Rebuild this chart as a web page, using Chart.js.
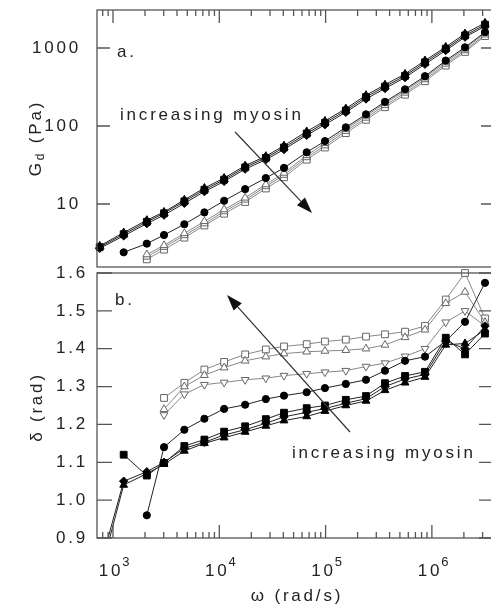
<!DOCTYPE html>
<html>
<head>
<meta charset="utf-8">
<script src="https://cdn.jsdelivr.net/npm/chart.js@4.4.0/dist/chart.umd.min.js"></script>
<style>
html, body { margin: 0; padding: 0; background: #fff; overflow: hidden; width: 491px; height: 608px; }
#wrap { position: relative; width: 491px; height: 608px; }
canvas { position: absolute; left: 0; top: 0; }
</style>
</head>
<body>
<div id="wrap">
  <canvas id="chartG" width="500" height="608"></canvas>
  <canvas id="chartD" width="500" height="608"></canvas>
</div>
<script>
// frequency grid (rad/s), shared by every curve
const omega = [750, 1260, 2080, 3020, 4690, 7240, 11100, 17500, 27400, 40600, 66400, 98600, 155000, 240000, 362000, 559000, 861000, 1350000, 2050000, 3160000];

// panel a: Gd (Pa)
const gTriFilled   = [2.9, 4.3, 6.2, 7.9, 11.3, 16, 21.5, 31, 41, 56, 85, 116, 167, 248, 338, 465, 690, 1030, 1530, 2100];
const gSqFilled    = [2.8, 4.1, 5.9, 7.6, 10.8, 15.2, 20.5, 29.5, 39, 53, 80, 110, 158, 235, 320, 440, 655, 980, 1450, 1990];
const gDiaFilled   = [2.7, 3.9, 5.6, 7.2, 10.2, 14.4, 19.5, 28, 37, 50, 76, 104, 150, 222, 303, 418, 620, 930, 1380, 1900];
const gCircFilled  = [null, 2.4, 3.1, 4.0, 5.5, 7.8, 11, 15.5, 21.5, 29, 46, 64, 96, 141, 204, 295, 435, 690, 1020, 1600];
const gTriDownOpen = [null, null, 2.25, 2.95, 4.2, 6.0, 8.5, 12, 17.8, 25, 42, 60, 91, 135, 195, 282, 417, 660, 980, 1550];
const gTriOpen     = [null, null, 2.1, 2.8, 3.95, 5.6, 8.0, 11.3, 16.8, 23.5, 39.5, 56, 86, 127, 184, 266, 395, 625, 930, 1480];
const gSqOpen      = [null, null, 1.95, 2.6, 3.7, 5.3, 7.5, 10.6, 15.8, 22, 37, 53, 81, 120, 174, 252, 375, 595, 890, 1420];

// panel b: delta (rad)
const dTriFilled   = [0.80, 1.04, 1.07, 1.095, 1.13, 1.15, 1.165, 1.18, 1.196, 1.21, 1.221, 1.235, 1.25, 1.262, 1.29, 1.31, 1.325, 1.41, 1.414, 1.45];
const dSqFilled    = [null, 1.12, 1.065, 1.098, 1.143, 1.16, 1.181, 1.195, 1.214, 1.231, 1.243, 1.25, 1.265, 1.275, 1.309, 1.328, 1.339, 1.429, 1.385, 1.44];
const dDiaFilled   = [0.82, 1.05, 1.075, 1.10, 1.137, 1.153, 1.172, 1.186, 1.203, 1.22, 1.232, 1.242, 1.256, 1.268, 1.30, 1.32, 1.332, 1.42, 1.40, 1.46];
const dCircFilled  = [null, null, 0.96, 1.14, 1.186, 1.215, 1.241, 1.252, 1.267, 1.276, 1.285, 1.296, 1.307, 1.318, 1.342, 1.368, 1.379, 1.42, 1.471, 1.574];
const dTriDownOpen = [null, null, null, 1.225, 1.28, 1.305, 1.311, 1.318, 1.322, 1.329, 1.334, 1.338, 1.342, 1.353, 1.362, 1.38, 1.40, 1.47, 1.50, 1.46];
const dTriOpen     = [null, null, null, 1.24, 1.30, 1.33, 1.35, 1.368, 1.379, 1.387, 1.392, 1.394, 1.396, 1.40, 1.41, 1.43, 1.45, 1.52, 1.55, 1.47];
const dSqOpen      = [null, null, null, 1.27, 1.31, 1.345, 1.365, 1.385, 1.398, 1.406, 1.412, 1.419, 1.424, 1.432, 1.438, 1.445, 1.46, 1.53, 1.60, 1.48];

// tick labels
const gTicks = [10, 100, 1000];
const dTicks = [0.9, 1.0, 1.1, 1.2, 1.3, 1.4, 1.5, 1.6];
const xDecades = [3, 4, 5, 6];

const FONT = '"Liberation Sans", Arial, Helvetica, sans-serif';
const SPACING = '2.8px';

function series(ys, shape, filled, radius) {
  return {
    data: omega.map((w, i) => ({x: w, y: ys[i]})),
    showLine: true,
    pointStyle: shape,
    pointRadius: radius,
    pointBackgroundColor: filled ? '#000' : '#fff',
    pointBorderColor: filled ? '#000' : '#666',
    pointBorderWidth: 1,
    borderColor: filled ? '#222' : '#888',
    borderWidth: 1,
    tension: 0,
    clip: {left: 6, top: 6, right: 6, bottom: 0}
  };
}

function text(ctx, str, x, y, size, align) {
  ctx.font = size + 'px ' + FONT;
  ctx.textAlign = align || 'left';
  ctx.textBaseline = 'alphabetic';
  ctx.fillStyle = '#222';
  ctx.fillText(str, x, y);
}

function arrow(ctx, x1, y1, x2, y2) {
  const ang = Math.atan2(y2 - y1, x2 - x1), L = 16, W = 5.5;
  const bx = x2 - L * Math.cos(ang), by = y2 - L * Math.sin(ang);
  ctx.strokeStyle = '#333';
  ctx.lineWidth = 1.2;
  ctx.beginPath(); ctx.moveTo(x1, y1); ctx.lineTo(bx, by); ctx.stroke();
  ctx.beginPath();
  ctx.moveTo(x2, y2);
  ctx.lineTo(bx + W * Math.sin(ang), by - W * Math.cos(ang));
  ctx.lineTo(bx - W * Math.sin(ang), by + W * Math.cos(ang));
  ctx.closePath();
  ctx.fillStyle = '#111';
  ctx.fill();
}

// rotated title with a subscript piece: parts = [[str, size, shift], ...]
function vtitle(ctx, parts, x, y) {
  ctx.save();
  ctx.translate(x, y);
  ctx.rotate(-Math.PI / 2);
  ctx.textBaseline = 'alphabetic';
  ctx.fillStyle = '#222';
  let total = 0;
  parts.forEach(p => { ctx.font = p[1] + 'px ' + FONT; total += ctx.measureText(p[0]).width; });
  let cx = -total / 2;
  parts.forEach(p => {
    ctx.font = p[1] + 'px ' + FONT;
    ctx.textAlign = 'left';
    ctx.fillText(p[0], cx, p[2]);
    cx += ctx.measureText(p[0]).width;
  });
  ctx.restore();
}

const panel = {
  id: 'panel',
  beforeDraw(chart) { chart.ctx.letterSpacing = SPACING; },
  afterDraw(chart, args, o) {
    const ctx = chart.ctx, a = chart.chartArea, x = chart.scales.x, y = chart.scales.y;
    ctx.save();
    ctx.letterSpacing = SPACING;
    ctx.strokeStyle = '#555';
    ctx.lineWidth = 1.3;
    ctx.strokeRect(a.left, a.top, a.right - a.left, a.bottom - a.top);
    ctx.beginPath();
    for (let e = 2; e <= 6; e++) {
      for (let k = 1; k <= 9; k++) {
        const v = k * Math.pow(10, e);
        if (v < x.min || v > x.max) continue;
        const px = x.getPixelForValue(v);
        const len = k === 1 ? 13 : 6;
        if (o.xSide === 'top') { ctx.moveTo(px, a.top); ctx.lineTo(px, a.top + len); }
        else { ctx.moveTo(px, a.bottom); ctx.lineTo(px, a.bottom - len); }
      }
    }
    o.yTicks.forEach(v => {
      const py = y.getPixelForValue(v);
      ctx.moveTo(a.left, py); ctx.lineTo(a.left + o.yLen, py);
      ctx.moveTo(a.right, py); ctx.lineTo(a.right - o.yLen, py);
    });
    ctx.stroke();

    // panel letter, annotation and arrow, placed in data coordinates
    text(ctx, o.letter[0], x.getPixelForValue(o.letter[1]), y.getPixelForValue(o.letter[2]), 17);
    text(ctx, 'increasing myosin', x.getPixelForValue(o.note[0]), y.getPixelForValue(o.note[1]), 17);
    arrow(ctx, x.getPixelForValue(o.arrow[0]), y.getPixelForValue(o.arrow[1]),
               x.getPixelForValue(o.arrow[2]), y.getPixelForValue(o.arrow[3]));

    if (o.xSide === 'top') {
      vtitle(ctx, [['G', 17, 0], ['d', 12, 3], [' (Pa)', 17, 0]], 41, 138);
    } else {
      vtitle(ctx, [['δ (rad)', 17, 0]], 42, 407);
      xDecades.forEach(e => {
        const px = x.getPixelForValue(Math.pow(10, e)) - 2;
        text(ctx, '10', px, 576, 17, 'center');
        ctx.font = '17px ' + FONT;
        const w = ctx.measureText('10').width;
        text(ctx, String(e), px + w / 2 - 1, 566, 13, 'left');
      });
      text(ctx, 'ω (rad/s)', 297, 601, 17, 'center');
    }
    ctx.restore();
  }
};

function yAxis(type, min, max, list, fmt, pad) {
  return {
    type: type, position: 'left', min: min, max: max,
    afterFit: s => { s.width = 97; s.paddingTop = 0; s.paddingBottom = 0; },
    afterBuildTicks: s => { s.ticks = list.map(v => ({value: v})); },
    ticks: { callback: fmt, padding: pad, color: '#222', font: {family: FONT, size: 17} },
    grid: { display: false, drawTicks: false },
    border: { display: false }
  };
}

const xAxis = { type: 'logarithmic', display: false, min: 707, max: 3.84e6 };

new Chart(document.getElementById('chartG'), {
  type: 'scatter',
  data: { datasets: [
    series(gTriFilled, 'triangle', true, 4.5),
    series(gSqFilled, 'rect', true, 4.8),
    series(gDiaFilled, 'rectRot', true, 4.2),
    series(gCircFilled, 'circle', true, 3.6),
    series(gTriDownOpen, 'triangle', false, 4.5),
    series(gTriOpen, 'triangle', false, 4.5),
    series(gSqOpen, 'rect', false, 4.8)
  ]},
  options: {
    responsive: false, animation: false, events: [],
    layout: { padding: { top: 10, right: 6, bottom: 341, left: 0 } },
    plugins: {
      legend: { display: false }, tooltip: { enabled: false },
      panel: { xSide: 'top', yTicks: gTicks, yLen: 13,
               letter: ['a.', 1090, 767], note: [1164, 119], arrow: [14070, 83.8, 74500, 7.67] }
    },
    scales: { x: xAxis, y: yAxis('logarithmic', 1.556, 3070, gTicks, v => String(v), 16) }
  },
  plugins: [panel]
});

const dTriDownStyle = series(dTriDownOpen, 'triangle', false, 4.5);
dTriDownStyle.pointRotation = 180;

new Chart(document.getElementById('chartD'), {
  type: 'scatter',
  data: { datasets: [
    series(dTriFilled, 'triangle', true, 4.5),
    series(dSqFilled, 'rect', true, 4.8),
    series(dDiaFilled, 'rectRot', true, 4.2),
    series(dCircFilled, 'circle', true, 3.6),
    dTriDownStyle,
    series(dTriOpen, 'triangle', false, 4.5),
    series(dSqOpen, 'rect', false, 4.8)
  ]},
  options: {
    responsive: false, animation: false, events: [],
    layout: { padding: { top: 273, right: 6, bottom: 70, left: 0 } },
    plugins: {
      legend: { display: false }, tooltip: { enabled: false },
      panel: { xSide: 'bottom', yTicks: dTicks, yLen: 15,
               letter: ['b.', 1045, 1.5155], note: [48300, 1.111], arrow: [169700, 1.18, 11820, 1.542] }
    },
    scales: { x: xAxis, y: yAxis('linear', 0.9, 1.6, dTicks, v => v.toFixed(1), 9) }
  },
  plugins: [panel]
});
</script>
</body>
</html>
